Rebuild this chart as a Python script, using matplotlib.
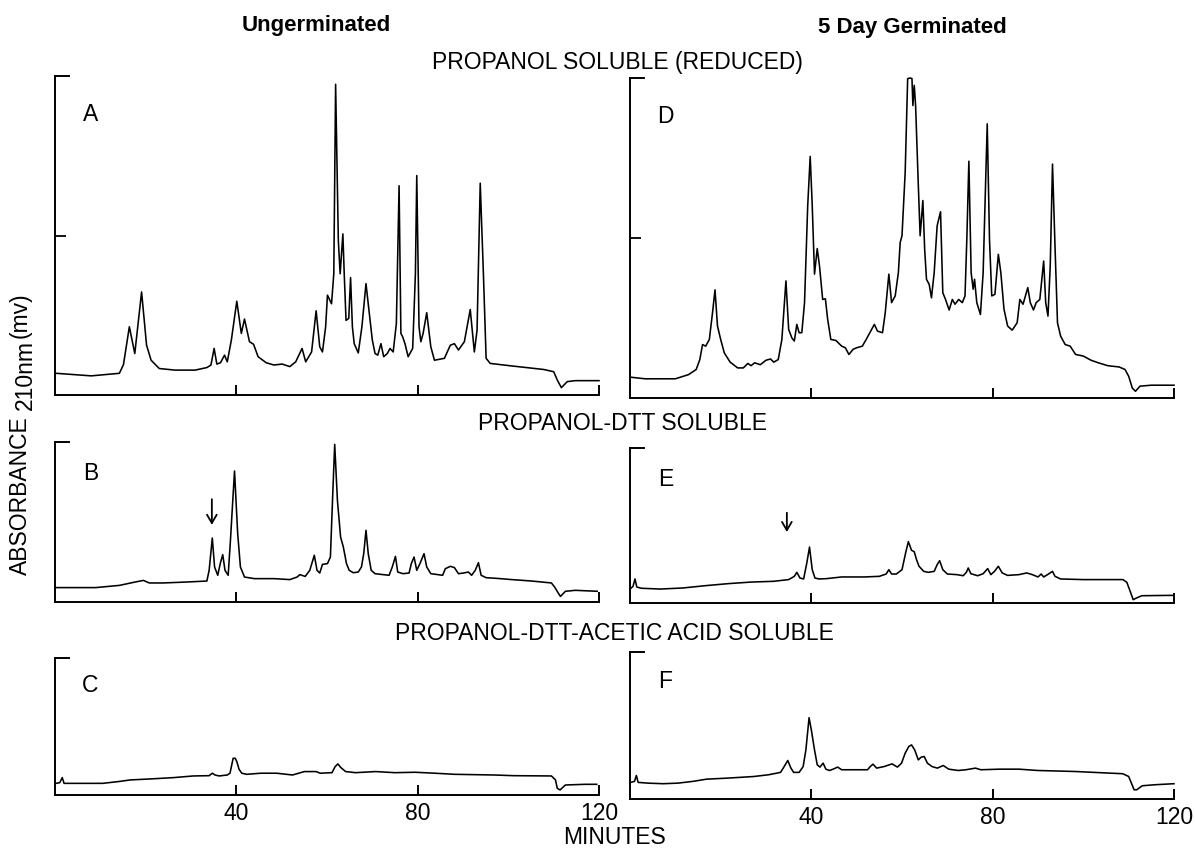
import matplotlib
matplotlib.use("Agg")
import matplotlib.pyplot as plt

plt.rcParams['font.family'] = ['Liberation Sans', 'DejaVu Sans']

# ---------------- data (time in minutes, signal in % of panel full scale) ----
a_time = [0.26, 8.0, 14.2, 15.1, 16.4, 17.6, 19.1, 20.2, 21.2, 23.0, 26.5, 30.9, 33.5, 34.4, 35.1, 35.7, 36.5, 37.4, 38.0, 38.9,
          40.1, 41.1, 41.8, 42.9, 43.8, 44.8, 46.6, 48.3, 50.1, 51.8, 53.1, 54.5, 55.3, 56.6, 57.6, 58.4, 59.0, 59.7, 60.1, 61.0,
          61.5, 61.9, 62.5, 62.9, 63.5, 63.8, 64.2, 64.8, 65.2, 65.6, 66.0, 66.9, 67.7, 68.6, 69.3, 70.0, 70.6, 71.2, 71.9, 72.5,
          73.3, 73.9, 74.6, 75.3, 75.9, 76.3, 76.7, 77.2, 77.9, 78.9, 79.5, 79.8, 80.3, 80.7, 81.2, 82.0, 82.9, 83.7, 85.9, 87.2,
          88.1, 89.0, 90.3, 91.6, 92.5, 93.1, 93.8, 94.5, 95.1, 96.0, 100.8, 107.8, 110.0, 110.8, 111.7, 113.0, 114.8, 120.0]
a_signal = [6.8, 6.0, 6.8, 9.5, 21.4, 13.0, 32.3, 15.6, 10.9, 8.3, 7.8, 7.8, 8.6, 9.4, 14.6, 9.7, 10.1, 12.5, 10.4, 17.2,
            29.4, 19.3, 23.8, 16.7, 15.9, 12.0, 10.1, 9.4, 9.7, 8.9, 10.4, 14.6, 10.4, 13.5, 26.4, 15.1, 13.5, 21.4, 31.3, 28.6,
            38.0, 97.4, 48.4, 38.0, 50.5, 38.0, 23.4, 24.0, 36.8, 21.4, 16.1, 13.2, 21.4, 34.9, 26.0, 17.2, 13.0, 12.5, 16.1, 12.0,
            13.0, 14.6, 13.5, 22.4, 65.6, 19.3, 18.2, 16.1, 12.0, 14.6, 38.0, 68.8, 21.4, 16.7, 19.3, 25.8, 15.1, 10.9, 11.5, 15.6,
            16.1, 14.1, 16.7, 26.8, 13.5, 20.3, 66.4, 38.0, 11.5, 9.9, 9.1, 8.0, 7.3, 4.7, 2.3, 4.2, 4.5, 4.5]

b_time = [0, 9.0, 14.25, 17.7, 19.5, 20.8, 23.9, 29.1, 33.5, 34.0, 34.7, 35.2, 35.9, 36.45, 37.0, 37.5, 38.2, 38.7, 39.6, 40.3,
          40.9, 41.8, 44.0, 48.3, 51.8, 53.4, 54.0, 55.2, 56.2, 57.2, 57.8, 58.4, 59.0, 60.1, 60.75, 61.3, 61.7, 62.3, 63.0, 63.6,
          64.3, 64.9, 65.8, 66.9, 67.6, 68.1, 68.6, 69.1, 69.75, 70.6, 72.4, 73.7, 74.4, 75.1, 75.6, 76.75, 78.1, 78.6, 79.2, 79.8,
          80.5, 81.4, 82.0, 82.9, 85.5, 86.1, 87.2, 88.1, 89.0, 90.1, 91.2, 91.9, 92.7, 93.4, 94.0, 95.1, 97.3, 100.8, 105.2, 109.5,
          110.2, 111.1, 111.5, 112.6, 114.8, 119.6]
b_signal = [9.0, 9.0, 10.4, 12.5, 13.5, 11.9, 11.9, 12.5, 13.1, 19.8, 40.0, 21.9, 16.7, 24.0, 29.6, 19.8, 16.7, 38.5, 81.9, 42.7,
            21.9, 15.6, 14.6, 14.6, 14.0, 15.6, 17.1, 16.0, 19.8, 29.2, 19.8, 18.1, 23.5, 24.0, 28.1, 69.8, 98.5, 63.5, 40.6, 34.4,
            24.0, 19.8, 18.3, 18.75, 21.9, 30.2, 44.8, 30.2, 19.8, 17.7, 17.1, 16.7, 21.9, 28.5, 18.75, 17.7, 18.1, 24.0, 28.1, 19.8,
            24.0, 30.2, 21.9, 17.7, 16.7, 20.8, 22.3, 21.5, 17.7, 18.1, 18.75, 16.7, 19.8, 24.6, 16.7, 15.2, 14.8, 14.0, 13.1, 11.9,
            9.4, 5.2, 3.5, 6.7, 7.3, 6.7]

c_time = [0.2, 1.05, 1.6, 2.0, 5.2, 10.5, 14.0, 16.6, 20.9, 26.2, 30.5, 34.0, 34.7, 35.3, 36.2, 38.0, 38.6, 39.3, 39.75, 40.1,
          40.6, 41.2, 42.3, 45.4, 48.9, 52.4, 55.0, 57.6, 58.5, 61.1, 61.8, 62.4, 63.0, 64.1, 66.3, 70.7, 75.0, 79.4, 83.8, 88.1,
          96.9, 101.2, 109.5, 110.4, 110.8, 111.4, 112.6, 116.9, 119.5]
c_signal = [8.5, 9.0, 12.7, 8.5, 8.5, 8.5, 9.8, 11.0, 11.7, 12.7, 13.9, 14.1, 15.9, 14.6, 13.9, 14.6, 15.9, 26.8, 26.8, 24.4,
            18.8, 15.9, 15.1, 15.9, 15.9, 14.6, 17.1, 17.1, 15.9, 16.3, 20.7, 22.7, 20.2, 17.1, 16.3, 17.1, 16.3, 16.6, 15.9, 15.1,
            14.6, 14.1, 13.9, 11.0, 4.9, 3.7, 7.3, 7.8, 7.8]

d_time = [0.17, 3.33, 10.0, 12.9, 14.6, 15.4, 16.0, 16.7, 17.5, 18.2, 18.75, 19.3, 20.0, 20.8, 22.1, 23.75, 25.0, 26.0, 26.7, 27.5,
          28.75, 30.0, 31.0, 31.7, 32.7, 33.5, 34.4, 35.0, 35.7, 36.25, 36.8, 37.3, 37.9, 38.5, 39.2, 39.75, 40.2, 40.7, 41.3, 41.8,
          42.5, 43.1, 43.6, 44.3, 45.4, 46.7, 47.5, 48.3, 49.2, 50.0, 51.25, 52.1, 52.9, 53.9, 54.6, 55.7, 56.3, 57.1, 57.7, 58.5,
          59.2, 59.6, 60.0, 60.7, 61.25, 61.8, 62.2, 62.4, 62.7, 63.0, 63.5, 64.0, 64.6, 65.0, 65.4, 66.0, 66.5, 67.1, 67.75, 68.5,
          69.0, 69.6, 70.4, 71.1, 71.7, 72.5, 73.3, 73.9, 74.3, 74.75, 75.25, 75.7, 76.0, 76.5, 77.3, 77.9, 78.8, 79.3, 79.8, 80.5,
          81.25, 81.8, 82.5, 83.3, 84.3, 85.4, 86.0, 86.7, 87.75, 88.3, 89.0, 89.6, 90.4, 91.25, 91.7, 92.2, 92.7, 93.2, 93.75, 94.3,
          95.0, 96.0, 97.1, 98.3, 100.0, 101.7, 103.3, 105.4, 107.9, 109.2, 110.0, 110.8, 111.5, 112.5, 115.0, 120.0]
d_signal = [6.5, 6.0, 6.0, 7.3, 8.9, 12.0, 16.7, 16.2, 18.3, 26.6, 33.8, 22.5, 18.3, 14.1, 11.2, 9.4, 9.4, 10.8, 10.1, 11.0,
            10.4, 11.8, 12.2, 11.2, 12.0, 18.3, 36.6, 21.4, 18.8, 17.8, 23.0, 20.4, 20.4, 29.8, 60.1, 75.5, 60.1, 38.7, 46.7, 41.3,
            30.8, 31.0, 24.6, 18.3, 18.0, 16.2, 15.7, 13.6, 15.2, 15.7, 16.2, 18.3, 20.4, 23.0, 20.9, 20.4, 26.6, 38.7, 29.8, 31.9,
            39.2, 48.6, 50.7, 70.5, 99.8, 100.0, 99.8, 91.4, 97.7, 91.4, 70.5, 50.7, 61.7, 46.5, 37.1, 35.5, 31.3, 39.2, 53.8, 58.2,
            32.9, 30.8, 27.5, 30.8, 29.3, 30.8, 29.8, 31.9, 49.6, 74.0, 39.2, 34.0, 37.1, 29.8, 26.1, 39.2, 85.7, 49.6, 31.9, 32.4,
            44.9, 39.2, 27.7, 22.5, 21.2, 23.5, 30.8, 29.3, 34.5, 29.8, 27.5, 29.8, 30.8, 42.8, 29.8, 25.6, 41.3, 73.1, 47.5, 23.5,
            19.3, 16.7, 16.2, 13.6, 13.1, 11.8, 11.0, 10.1, 9.7, 8.9, 6.8, 3.1, 2.1, 3.7, 4.0, 4.0]

e_time = [0, 0.67, 1.1, 1.5, 2.5, 6.7, 11.7, 16.7, 21.7, 26.7, 31.7, 35.0, 36.25, 36.8, 37.5, 38.3, 39.0, 39.6, 40.2, 40.8,
          41.7, 43.3, 46.7, 51.7, 55.0, 56.5, 57.1, 57.7, 58.75, 60.0, 60.8, 61.4, 62.1, 62.7, 63.2, 63.75, 64.8, 65.8, 67.1, 67.75,
          68.3, 69.0, 70.0, 72.1, 73.5, 74.2, 74.6, 75.2, 76.7, 77.9, 78.9, 79.6, 80.4, 81.25, 82.1, 83.3, 85.8, 87.5, 88.75, 90.0,
          90.7, 91.25, 92.1, 93.2, 93.75, 95.0, 100.0, 105.0, 108.75, 109.6, 110.2, 111.0, 111.7, 112.9, 118.3, 119.6]
e_signal = [9.0, 10.75, 15.5, 10.3, 9.5, 9.0, 9.7, 11.2, 12.5, 13.5, 14.0, 15.1, 17.2, 19.8, 16.1, 15.5, 25.8, 36.1, 21.5, 16.1,
            15.5, 15.7, 16.8, 16.8, 17.2, 18.7, 21.5, 18.7, 18.7, 21.5, 32.3, 39.6, 34.0, 33.1, 28.0, 23.7, 20.4, 19.8, 20.4, 24.7,
            27.3, 21.5, 18.7, 18.3, 17.6, 19.8, 22.6, 18.9, 17.6, 18.9, 22.2, 18.3, 20.4, 23.7, 19.4, 17.8, 18.3, 19.4, 18.3, 16.8,
            18.7, 16.8, 18.3, 20.4, 17.2, 15.5, 15.1, 15.1, 15.1, 13.3, 8.6, 2.15, 3.2, 4.7, 4.9, 4.9]

f_time = [0.17, 1.0, 1.4, 1.8, 3.9, 7.3, 10.6, 13.9, 16.9, 21.5, 27.3, 30.6, 33.2, 33.8, 34.8, 35.5, 36.1, 37.3, 38.2, 38.8,
          39.5, 40.0, 40.7, 41.3, 41.9, 42.6, 43.2, 44.0, 44.8, 45.8, 46.7, 49.0, 52.4, 53.0, 53.6, 54.4, 56.1, 57.8, 59.0, 59.9,
          60.7, 61.5, 62.1, 62.8, 63.6, 64.2, 64.9, 65.6, 66.6, 67.8, 69.1, 70.3, 72.4, 74.1, 76.2, 77.4, 81.6, 85.8, 89.9, 98.3,
          105.8, 108.7, 110.0, 110.6, 111.2, 111.8, 113.0, 115.8, 120.0]
f_signal = [11.3, 12.0, 16.0, 11.3, 10.8, 10.4, 10.8, 12.0, 13.5, 14.2, 15.3, 16.5, 18.1, 21.0, 26.2, 21.0, 18.1, 18.1, 22.1, 33.4,
            55.3, 47.0, 33.4, 23.3, 21.7, 24.4, 20.3, 19.4, 20.3, 21.7, 19.9, 19.9, 19.9, 22.1, 23.7, 21.0, 22.1, 23.9, 21.7, 24.4,
            31.2, 35.7, 36.8, 33.4, 26.6, 28.4, 28.9, 24.4, 22.1, 21.0, 22.8, 20.3, 19.4, 19.9, 21.0, 19.9, 20.3, 20.3, 19.4, 18.7,
            17.6, 17.2, 15.3, 10.8, 6.3, 6.3, 9.0, 9.7, 10.4]

panel_letters = ['A', 'B', 'C', 'D', 'E', 'F']
column_titles = ['Ungerminated', '5 Day Germinated']
row_titles = ['PROPANOL SOLUBLE (REDUCED)', 'PROPANOL-DTT SOLUBLE', 'PROPANOL-DTT-ACETIC ACID SOLUBLE']
x_ticks = [40, 80, 120]
x_tick_labels = ['40', '80', '120']
arrow_b = (34.6, 66.0, 46.5)   # time, tail, head
arrow_e = (34.6, 60.0, 44.0)

# ---------------- layout (pixel boxes: left, right, top, bottom) -------------
W, H = 1195, 851
fig = plt.figure(figsize=(W / 100, H / 100), dpi=100)

boxes = {
    'A': (55, 599, 76, 395), 'D': (630, 1174, 78, 398),
    'B': (55, 599, 442, 602), 'E': (630, 1174, 448, 603),
    'C': (55, 599, 658, 795), 'F': (630, 1174, 652, 799),
}
series = {
    'A': (a_time, a_signal), 'B': (b_time, b_signal), 'C': (c_time, c_signal),
    'D': (d_time, d_signal), 'E': (e_time, e_signal), 'F': (f_time, f_signal),
}
FS = 16.5
axes = {}
for key in panel_letters:
    l, r, t, b = boxes[key]
    ax = fig.add_axes([l / W, 1 - b / H, (r - l) / W, (b - t) / H])
    axes[key] = ax
    tx, sy = series[key]
    ax.plot(tx, sy, color='black', lw=1.15, solid_joinstyle='round', clip_on=False)
    ax.set_xlim(0, 120)
    ax.set_ylim(0, 100)
    for s in ['top', 'right']:
        ax.spines[s].set_visible(False)
    for s in ['left', 'bottom']:
        ax.spines[s].set_linewidth(1.4)
    ax.set_xticks(x_ticks)
    ax.tick_params(axis='x', direction='in', length=7, width=1.4, pad=5, labelsize=FS)
    if key in ('C', 'F'):
        ax.set_xticklabels(x_tick_labels)
    else:
        ax.set_xticklabels([])
    if key in ('A', 'D'):
        ax.set_yticks([50])
    else:
        ax.set_yticks([])
    ax.tick_params(axis='y', direction='in', length=8, width=1.3, labelleft=False)
    # top bracket
    ax.plot([0, 0.025], [1, 1], transform=ax.transAxes, color='black', lw=1.4, clip_on=False)
    ax.text(0.065, 0.88 if key in ('A', 'D') else 0.8, key, transform=ax.transAxes,
            fontsize=FS, ha='center', va='center')

for key, (tm, y0, y1) in (('B', arrow_b), ('E', arrow_e)):
    axes[key].annotate('', xy=(tm, y1), xytext=(tm, y0),
                       arrowprops=dict(arrowstyle='->,head_length=0.6,head_width=0.35', lw=1.3, color='black'))

def ftext(x, y, s, **kw):
    fig.text(x / W, 1 - y / H, s, **kw)

ftext(316, 25, column_titles[0], fontsize=16, fontweight='bold', ha='center', va='center')
ftext(912, 27, column_titles[1], fontsize=16, fontweight='bold', ha='center', va='center')
ftext(617, 63, row_titles[0], fontsize=FS, ha='center', va='center')
ftext(622, 423, row_titles[1], fontsize=FS, ha='center', va='center')
ftext(614, 633, row_titles[2], fontsize=FS, ha='center', va='center')
ftext(614, 838, 'MINUTES', fontsize=FS, ha='center', va='center')

# y label with subscript
ftext(20, 575, 'ABSORBANCE', fontsize=FS, rotation=90, rotation_mode='anchor', ha='left', va='center')
ftext(25, 410, '210nm', fontsize=FS, rotation=90, rotation_mode='anchor', ha='left', va='center')
ftext(20, 338, '(mv)', fontsize=FS, rotation=90, rotation_mode='anchor', ha='left', va='center')

fig.savefig('out.png', dpi=100)
